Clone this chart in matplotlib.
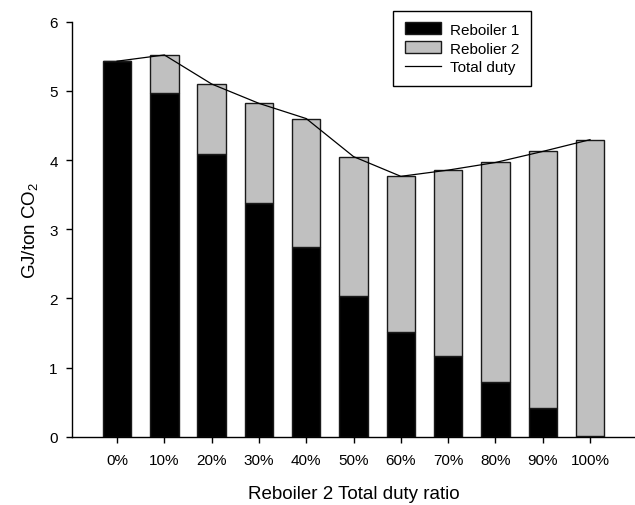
import numpy as np
import matplotlib
matplotlib.use('Agg')
import matplotlib.pyplot as plt

plt.rcParams['font.family'] = ['Liberation Sans', 'DejaVu Sans']
plt.rcParams['mathtext.fontset'] = 'custom'
plt.rcParams['mathtext.rm'] = 'Liberation Sans'
plt.rcParams['mathtext.default'] = 'regular'

# data (GJ/ton CO2)
ratios = ['0%', '10%', '20%', '30%', '40%', '50%', '60%', '70%', '80%', '90%', '100%']
reboiler1 = [5.43, 4.97, 4.09, 3.38, 2.75, 2.03, 1.51, 1.16, 0.79, 0.415, 0.01]
reboiler2 = [0.0, 0.55, 1.01, 1.44, 1.85, 2.02, 2.255, 2.695, 3.175, 3.71, 4.285]

x = np.arange(len(ratios))
total = np.array(reboiler1) + np.array(reboiler2)

fig = plt.figure(figsize=(6.35, 5.06), dpi=100)
ax = fig.add_axes([0.1129, 0.135, 0.887, 0.82])

b1 = ax.bar(x, reboiler1, width=0.6, color='black', edgecolor='#1a1a1a',
            linewidth=1.0, label='Reboiler 1', zorder=2)
b2 = ax.bar(x, reboiler2, width=0.6, bottom=reboiler1, color='#c0c0c0',
            edgecolor='#1a1a1a', linewidth=1.0, label='Rebolier 2', zorder=2)
ln, = ax.plot(x, total, color='black', linewidth=0.9, label='Total duty', zorder=3)

ax.set_xlim(-0.96, 10.95)
ax.set_ylim(0, 6)
ax.set_xticks(x)
ax.set_xticklabels(ratios)
ax.set_yticks(range(7))

for s in ['top', 'right']:
    ax.spines[s].set_visible(False)
for s in ['left', 'bottom']:
    ax.spines[s].set_linewidth(1.0)
    ax.spines[s].set_color('black')

ax.tick_params(axis='both', direction='out', length=4, width=1, labelsize=11)
ax.tick_params(axis='y', pad=6)
ax.tick_params(axis='x', pad=8)

ax.set_xlabel('Reboiler 2 Total duty ratio', fontsize=13.5, labelpad=13)
ax.set_ylabel('GJ/ton CO$_2$', fontsize=13.5, labelpad=7)

leg = ax.legend([b1, b2, ln], ['Reboiler 1', 'Rebolier 2', 'Total duty'],
                loc='upper left', bbox_to_anchor=(393.3 / 635, 1 - 11.7 / 506),
                bbox_transform=fig.transFigure, borderaxespad=0, fontsize=11,
                frameon=True, fancybox=False, framealpha=1, edgecolor='black',
                handlelength=2.4, handleheight=0.85, handletextpad=0.55,
                labelspacing=0.3, borderpad=0.75)
leg.get_frame().set_linewidth(1.0)

plt.savefig('out.png', dpi=100)
